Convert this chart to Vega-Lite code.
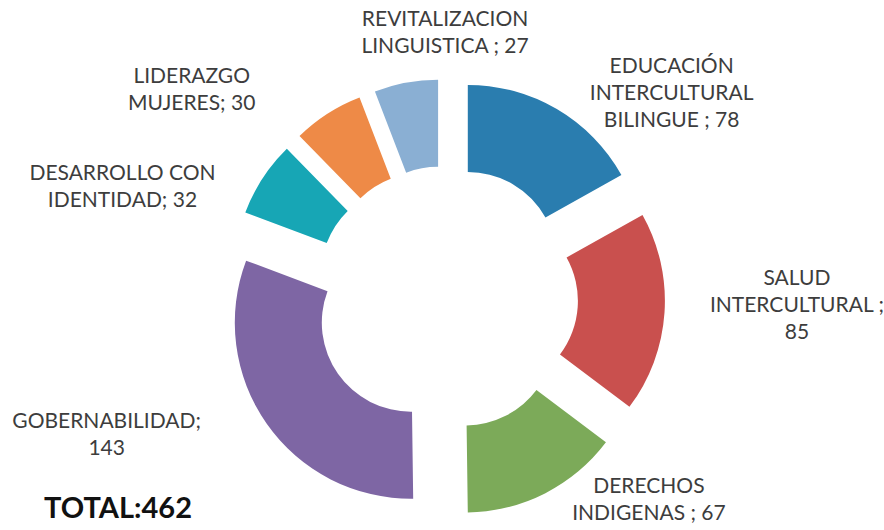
{
  "$schema": "https://vega.github.io/schema/vega-lite/v6.json",
  "width": 876,
  "height": 464,
  "autosize": "none",
  "padding": {"left": 8, "top": 66, "right": 0, "bottom": 0},
  "background": "white",
  "config": {
    "view": {"stroke": null},
    "font": "Lato",
    "text": {"font": "Lato", "fontSize": 21, "lineHeight": 27, "lineBreak": "\n", "align": "center", "baseline": "middle"},
    "arc": {"outerRadius": 176, "innerRadius": 89, "stroke": null}
  },
  "data": {
    "values": [
      {"cat": "EDUCACIÓN INTERCULTURAL BILINGUE", "label": "EDUCACIÓN\nINTERCULTURAL\nBILINGUE ; 78", "value": 78},
      {"cat": "SALUD INTERCULTURAL", "label": "SALUD\nINTERCULTURAL ;\n85", "value": 85},
      {"cat": "DERECHOS INDIGENAS", "label": "DERECHOS\nINDIGENAS ; 67", "value": 67},
      {"cat": "GOBERNABILIDAD", "label": "GOBERNABILIDAD;\n143", "value": 143},
      {"cat": "DESARROLLO CON IDENTIDAD", "label": "DESARROLLO CON\nIDENTIDAD; 32", "value": 32},
      {"cat": "LIDERAZGO MUJERES", "label": "LIDERAZGO\nMUJERES; 30", "value": 30},
      {"cat": "REVITALIZACION LINGUISTICA", "label": "REVITALIZACION\nLINGUISTICA ; 27", "value": 27}
    ]
  },
  "transform": [{"window": [{"op": "row_number", "as": "idx"}]}],
  "layer": [
    {
      "encoding": {
        "theta": {"field": "value", "type": "quantitative", "stack": true},
        "order": {"field": "idx", "type": "quantitative"},
        "color": {
          "field": "cat",
          "type": "nominal",
          "legend": null,
          "scale": {
            "domain": ["EDUCACIÓN INTERCULTURAL BILINGUE", "SALUD INTERCULTURAL", "DERECHOS INDIGENAS", "GOBERNABILIDAD", "DESARROLLO CON IDENTIDAD", "LIDERAZGO MUJERES", "REVITALIZACION LINGUISTICA"],
            "range": ["#2A7DAF", "#C9504E", "#7CAA59", "#7E66A4", "#17A6B5", "#EE8A47", "#8AAFD3"]
          }
        }
      },
      "layer": [
        {"mark": {"type": "arc", "xOffset": 21.8, "yOffset": -37.1},
         "encoding": {"opacity": {"condition": {"test": "datum.cat === 'EDUCACIÓN INTERCULTURAL BILINGUE'", "value": 1}, "value": 0}}},
        {"mark": {"type": "arc", "xOffset": 42.9, "yOffset": 2.9},
         "encoding": {"opacity": {"condition": {"test": "datum.cat === 'SALUD INTERCULTURAL'", "value": 1}, "value": 0}}},
        {"mark": {"type": "arc", "xOffset": 19.4, "yOffset": 38.4},
         "encoding": {"opacity": {"condition": {"test": "datum.cat === 'DERECHOS INDIGENAS'", "value": 1}, "value": 0}}},
        {"mark": {"type": "arc", "xOffset": -35.2, "yOffset": 24.7},
         "encoding": {"opacity": {"condition": {"test": "datum.cat === 'GOBERNABILIDAD'", "value": 1}, "value": 0}}},
        {"mark": {"type": "arc", "xOffset": -36.0, "yOffset": -23.5},
         "encoding": {"opacity": {"condition": {"test": "datum.cat === 'DESARROLLO CON IDENTIDAD'", "value": 1}, "value": 0}}},
        {"mark": {"type": "arc", "xOffset": -23.3, "yOffset": -36.2},
         "encoding": {"opacity": {"condition": {"test": "datum.cat === 'LIDERAZGO MUJERES'", "value": 1}, "value": 0}}},
        {"mark": {"type": "arc", "xOffset": -7.9, "yOffset": -42.3},
         "encoding": {"opacity": {"condition": {"test": "datum.cat === 'REVITALIZACION LINGUISTICA'", "value": 1}, "value": 0}}},
        {"mark": {"type": "text", "radius": 304, "thetaOffset": 0.306, "dy": -27},
         "encoding": {"text": {"field": "label"}, "color": {"value": "#3d3d3d"}, "opacity": {"condition": {"test": "datum.cat === 'EDUCACIÓN INTERCULTURAL BILINGUE'", "value": 1}, "value": 0}}},
        {"mark": {"type": "text", "radius": 351, "thetaOffset": -0.045, "dy": -27},
         "encoding": {"text": {"field": "label"}, "color": {"value": "#3d3d3d"}, "opacity": {"condition": {"test": "datum.cat === 'SALUD INTERCULTURAL'", "value": 1}, "value": 0}}},
        {"mark": {"type": "text", "radius": 287, "thetaOffset": -0.316, "dy": -13.5},
         "encoding": {"text": {"field": "label"}, "color": {"value": "#3d3d3d"}, "opacity": {"condition": {"test": "datum.cat === 'DERECHOS INDIGENAS'", "value": 1}, "value": 0}}},
        {"mark": {"type": "text", "radius": 366, "thetaOffset": 0.228, "dy": -13.5},
         "encoding": {"text": {"field": "label"}, "color": {"value": "#3d3d3d"}, "opacity": {"condition": {"test": "datum.cat === 'GOBERNABILIDAD'", "value": 1}, "value": 0}}},
        {"mark": {"type": "text", "radius": 342, "thetaOffset": -0.248, "dy": -13.5},
         "encoding": {"text": {"field": "label"}, "color": {"value": "#3d3d3d"}, "opacity": {"condition": {"test": "datum.cat === 'DESARROLLO CON IDENTIDAD'", "value": 1}, "value": 0}}},
        {"mark": {"type": "text", "radius": 328, "thetaOffset": -0.316, "dy": -13.5},
         "encoding": {"text": {"field": "label"}, "color": {"value": "#3d3d3d"}, "opacity": {"condition": {"test": "datum.cat === 'LIDERAZGO MUJERES'", "value": 1}, "value": 0}}},
        {"mark": {"type": "text", "radius": 265, "thetaOffset": 0.18, "dy": -13.5},
         "encoding": {"text": {"field": "label"}, "color": {"value": "#3d3d3d"}, "opacity": {"condition": {"test": "datum.cat === 'REVITALIZACION LINGUISTICA'", "value": 1}, "value": 0}}}
      ]
    },
    {
      "transform": [{"aggregate": [{"op": "sum", "field": "value", "as": "total"}]}],
      "mark": {"type": "text", "text": "TOTAL:462", "theta": 4.1408, "radius": 390, "fontSize": 29, "fontWeight": "bold", "color": "#111111"},
      "encoding": {}
    }
  ]
}
